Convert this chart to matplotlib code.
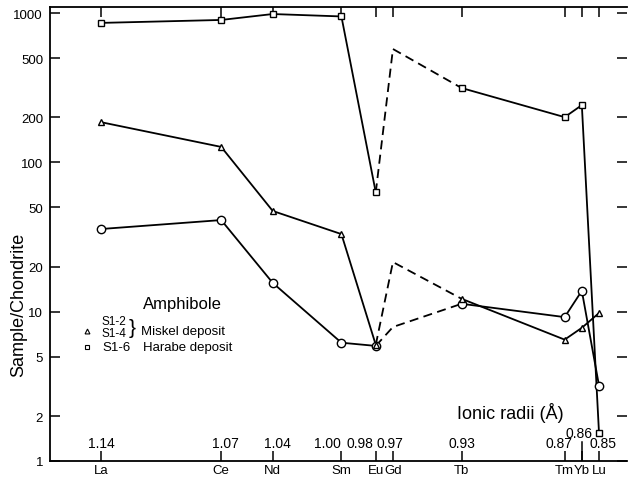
import numpy as np
import matplotlib
matplotlib.use("Agg")
import matplotlib.pyplot as plt
import matplotlib.transforms as mtransforms

plt.rcParams['font.family'] = ['Liberation Sans', 'DejaVu Sans']

# --- data ---
elements = ["La", "Ce", "Nd", "Sm", "Eu", "Gd", "Tb", "Tm", "Yb", "Lu"]
radii = [1.14, 1.07, 1.04, 1.00, 0.98, 0.97, 0.93, 0.87, 0.86, 0.85]
radii_labels = ["1.14", "1.07", "1.04", "1.00", "0.98", "0.97", "0.93", "0.87", "0.86", "0.85"]

s1_2 = [35.8, 41.1, 15.6, 6.2, 5.9, 7.9, 11.3, 9.2, 13.8, 3.2]      # circles
s1_4 = [186, 127, 47.3, 33.1, 6.0, 21.5, 12.2, 6.5, 7.8, 9.8]       # triangles
s1_6 = [860, 900, 986, 950, 63, 575, 315, 201, 242, 1.54]           # squares

yticks = [1, 2, 5, 10, 20, 50, 100, 200, 500, 1000]

fig = plt.figure(figsize=(6.29, 4.81), dpi=100)
ax = fig.add_axes([50/629, 1 - 462/481, 577/629, 454/481])

ax.set_yscale("log")
ax.set_ylim(1, 1099)
ax.set_xlim(1.1697, 0.8337)

# segments: solid La..Eu, dashed Eu..Tb, solid Tb..Lu
def draw(vals, marker, ms):
    x = np.array(radii)
    y = np.array(vals)
    kw = dict(color="black", lw=1.3)
    ax.plot(x[:5], y[:5], ls="-", **kw)
    ax.plot(x[4:7], y[4:7], ls=(0, (5, 3)), **kw)
    ax.plot(x[6:], y[6:], ls="-", **kw)
    idx = [0, 1, 2, 3, 4, 6, 7, 8, 9]
    ax.plot(x[idx], y[idx], ls="none", marker=marker, ms=ms,
            mfc="white", mec="black", mew=1.0, zorder=3)

draw(s1_2, "o", 6)
draw(s1_4, "^", 4.5)
draw(s1_6, "s", 5)

# axes styling
ax.spines["right"].set_visible(False)
for s in ["left", "bottom", "top"]:
    ax.spines[s].set_linewidth(1.3)

ax.set_yticks(yticks)
ax.set_yticklabels([str(v) for v in yticks])
ax.yaxis.set_minor_locator(matplotlib.ticker.NullLocator())
ax.tick_params(axis="y", which="major", direction="in", length=7, width=1.1,
               labelsize=9.5, right=True, pad=5)

ax.set_xticks(radii)
ax.set_xticklabels(elements)
ax.tick_params(axis="x", which="major", direction="in", length=7, width=1.1,
               labelsize=9.5, top=True, pad=2)

ax.set_ylabel("Sample/Chondrite", fontsize=13)
ax.yaxis.set_label_coords(-0.04, 0.346)

# ionic radii labels inside axes, above bottom spine (pixel nudges for crowded ones)
nudge = {"1.07": 4, "1.04": 5, "1.00": -14, "0.98": -16, "0.97": -3,
         "0.87": -6, "0.86": -3, "0.85": 4}
trans = mtransforms.blended_transform_factory(ax.transData, ax.transAxes)
for r, lab in zip(radii, radii_labels):
    dx = nudge.get(lab, 0) * 0.72
    yy = 0.062 if lab == "0.86" else 0.04
    ax.annotate(lab, xy=(r, yy), xycoords=trans, xytext=(dx, 0),
                textcoords="offset points", ha="center", va="center", fontsize=10)
    if lab == "0.86":
        ax.plot([r, r], [0.0, 0.042], transform=trans, color="black", lw=1.1)

ax.text(0.705, 0.108, "Ionic radii (Å)", transform=ax.transAxes, fontsize=13,
        ha="left", va="center")

# legend as text
ax.text(0.161, 0.346, "Amphibole", transform=ax.transAxes, fontsize=12,
        ha="left", va="center")
ax.text(0.09, 0.308, "S1-2", transform=ax.transAxes, fontsize=8.5, ha="left", va="center")
ax.text(0.09, 0.283, "S1-4", transform=ax.transAxes, fontsize=8.5, ha="left", va="center")
ax.text(0.137, 0.295, "}", transform=ax.transAxes, fontsize=15, ha="left", va="center")
ax.text(0.158, 0.286, "Miskel deposit", transform=ax.transAxes, fontsize=9.5,
        ha="left", va="center")
ax.text(0.09, 0.251, "S1-6", transform=ax.transAxes, fontsize=9.5, ha="left", va="center")
ax.text(0.161, 0.251, "Harabe deposit", transform=ax.transAxes, fontsize=9.5,
        ha="left", va="center")
ax.plot([0.064], [0.286], transform=ax.transAxes, marker="^", ms=3.5, mfc="white",
        mec="black", mew=0.8, clip_on=False)
ax.plot([0.064], [0.251], transform=ax.transAxes, marker="s", ms=3.5, mfc="white",
        mec="black", mew=0.8, clip_on=False)

fig.savefig("out.png", dpi=100)
